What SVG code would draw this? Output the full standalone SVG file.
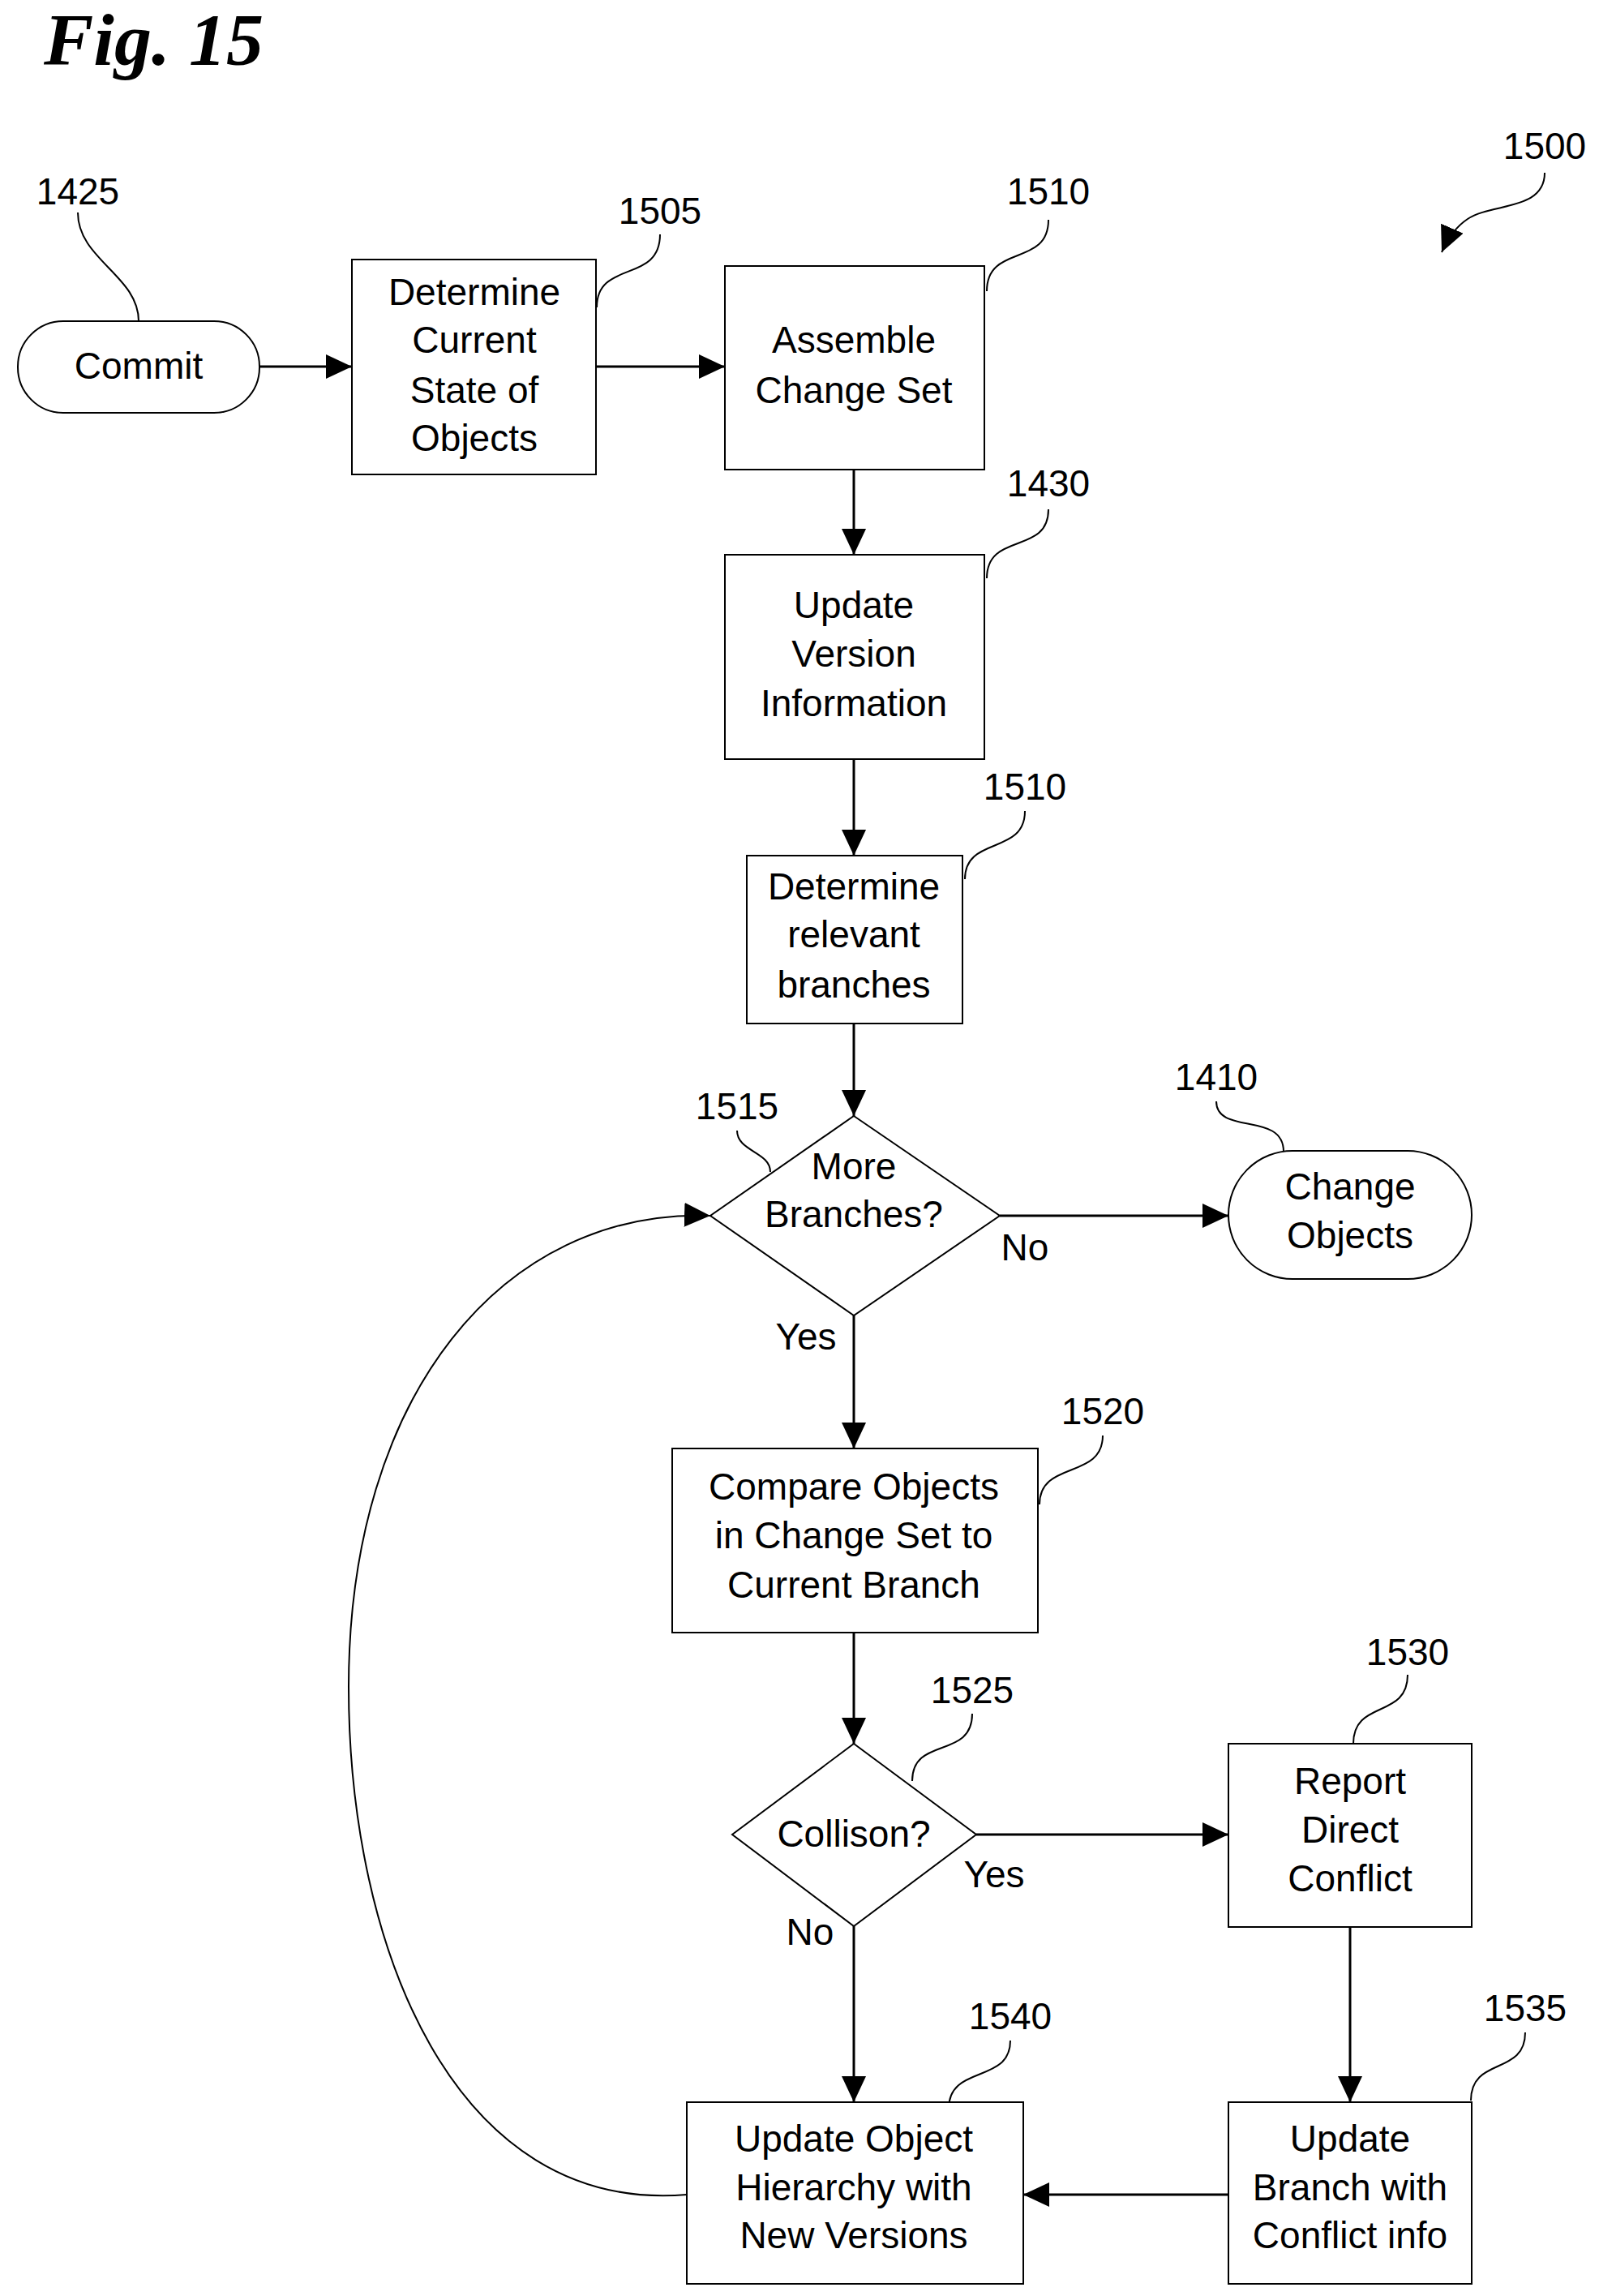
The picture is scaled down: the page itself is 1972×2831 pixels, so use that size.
<svg xmlns="http://www.w3.org/2000/svg" width="1972" height="2831" viewBox="0 0 1972 2831">
<style>
.s{fill:#fff;stroke:#000;stroke-width:2}
.t{font-family:"Liberation Sans",Arial,sans-serif;font-size:46px;text-anchor:middle;fill:#000}
.c{fill:none;stroke:#000;stroke-width:3}
.l{fill:none;stroke:#000;stroke-width:2}
</style>
<defs>
<marker id="a" markerUnits="userSpaceOnUse" markerWidth="34" markerHeight="30" refX="32" refY="15" orient="auto"><path d="M0,0 L32,15 L0,30 Z" fill="#000"/></marker>
</defs>
<rect width="1972" height="2831" fill="#fff"/>
<text x="54" y="80" font-family="Liberation Serif,serif" font-size="92" font-weight="bold" font-style="italic">Fig. 15</text>
<g id="connectors">
<path class="c" marker-end="url(#a)" d="M320,452 H434"/>
<path class="c" marker-end="url(#a)" d="M735,452 H894"/>
<path class="c" marker-end="url(#a)" d="M1053,579 V684"/>
<path class="c" marker-end="url(#a)" d="M1053,936 V1055"/>
<path class="c" marker-end="url(#a)" d="M1053,1262 V1376"/>
<path class="c" marker-end="url(#a)" d="M1233,1499 H1515"/>
<path class="c" marker-end="url(#a)" d="M1053,1622 V1786"/>
<path class="c" marker-end="url(#a)" d="M1053,2013 V2150"/>
<path class="c" marker-end="url(#a)" d="M1204,2262 H1515"/>
<path class="c" marker-end="url(#a)" d="M1053,2375 V2592"/>
<path class="c" marker-end="url(#a)" d="M1665,2376 V2592"/>
<path class="c" marker-end="url(#a)" d="M1515,2706 H1262"/>
<path class="l" marker-end="url(#a)" d="M847,2706 C560,2730 430,2400 430,2080 C430,1720 620,1490 876,1499"/>
<path class="l" marker-end="url(#a)" d="M1905,213 C1905,260 1840,250 1810,270 C1795,280 1785,295 1778,311"/>
</g>
<g id="leaders" class="l">
<path class="l" d="M96,262 C96,320 171,340 171,396"/>
<path class="l" d="M814,289 C814,350 736,320 736,379"/>
<path class="l" d="M1293,271 C1293,330 1217,300 1217,359"/>
<path class="l" d="M1293,628 C1293,685 1217,655 1217,713"/>
<path class="l" d="M1264,1000 C1264,1055 1190,1030 1190,1084"/>
<path class="l" d="M909,1394 C909,1420 950,1420 950,1445"/>
<path class="l" d="M1500,1358 C1500,1400 1583,1370 1583,1420"/>
<path class="l" d="M1360,1770 C1360,1825 1282,1800 1282,1855"/>
<path class="l" d="M1199,2113 C1199,2170 1125,2140 1125,2196"/>
<path class="l" d="M1736,2065 C1736,2120 1669,2095 1669,2150"/>
<path class="l" d="M1246,2516 C1246,2570 1170,2545 1170,2600"/>
<path class="l" d="M1881,2506 C1881,2560 1814,2535 1814,2590"/>
</g>
<g id="commit"><rect class="s" x="22" y="396" width="298" height="113" rx="56"/><text class="t" x="171" y="467">Commit</text></g>
<g id="n1505"><rect class="s" x="434" y="320" width="301" height="265"/><text class="t" x="585" y="376">Determine</text><text class="t" x="585" y="435">Current</text><text class="t" x="585" y="497">State of</text><text class="t" x="585" y="556">Objects</text></g>
<g id="n1510"><rect class="s" x="894" y="328" width="320" height="251"/><text class="t" x="1053" y="435">Assemble</text><text class="t" x="1053" y="497">Change Set</text></g>
<g id="n1430"><rect class="s" x="894" y="684" width="320" height="252"/><text class="t" x="1053" y="762">Update</text><text class="t" x="1053" y="822">Version</text><text class="t" x="1053" y="883">Information</text></g>
<g id="n1510b"><rect class="s" x="921" y="1055" width="266" height="207"/><text class="t" x="1053" y="1109">Determine</text><text class="t" x="1053" y="1168">relevant</text><text class="t" x="1053" y="1230">branches</text></g>
<g id="n1515"><path class="s" d="M1053,1376 L1233,1499 L1053,1622 L876,1499 Z"/><text class="t" x="1053" y="1454">More</text><text class="t" x="1053" y="1513">Branches?</text></g>
<g id="n1410"><rect class="s" x="1515" y="1419" width="300" height="158" rx="79"/><text class="t" x="1665" y="1479">Change</text><text class="t" x="1665" y="1539">Objects</text></g>
<g id="n1520"><rect class="s" x="829" y="1786" width="451" height="227"/><text class="t" x="1053" y="1849">Compare Objects</text><text class="t" x="1053" y="1909">in Change Set to</text><text class="t" x="1053" y="1970">Current Branch</text></g>
<g id="n1525"><path class="s" d="M1053,2150 L1204,2262 L1053,2375 L903,2262 Z"/><text class="t" x="1053" y="2277">Collison?</text></g>
<g id="n1530"><rect class="s" x="1515" y="2150" width="300" height="226"/><text class="t" x="1665" y="2212">Report</text><text class="t" x="1665" y="2272">Direct</text><text class="t" x="1665" y="2332">Conflict</text></g>
<g id="n1540"><rect class="s" x="847" y="2592" width="415" height="224"/><text class="t" x="1053" y="2653">Update Object</text><text class="t" x="1053" y="2713">Hierarchy with</text><text class="t" x="1053" y="2772">New Versions</text></g>
<g id="n1535"><rect class="s" x="1515" y="2592" width="300" height="224"/><text class="t" x="1665" y="2653">Update</text><text class="t" x="1665" y="2713">Branch with</text><text class="t" x="1665" y="2772">Conflict info</text></g>
<g id="labels">
<text class="t" x="994" y="1664">Yes</text><text class="t" x="1264" y="1554">No</text><text class="t" x="1226" y="2327">Yes</text><text class="t" x="999" y="2398">No</text>
<text class="t" x="96" y="252">1425</text><text class="t" x="814" y="276">1505</text><text class="t" x="1293" y="252">1510</text><text class="t" x="1293" y="612">1430</text><text class="t" x="1264" y="986">1510</text><text class="t" x="909" y="1380">1515</text><text class="t" x="1500" y="1344">1410</text><text class="t" x="1360" y="1756">1520</text><text class="t" x="1199" y="2100">1525</text><text class="t" x="1736" y="2053">1530</text><text class="t" x="1246" y="2502">1540</text><text class="t" x="1881" y="2492">1535</text><text class="t" x="1905" y="196">1500</text>
</g>
</svg>
